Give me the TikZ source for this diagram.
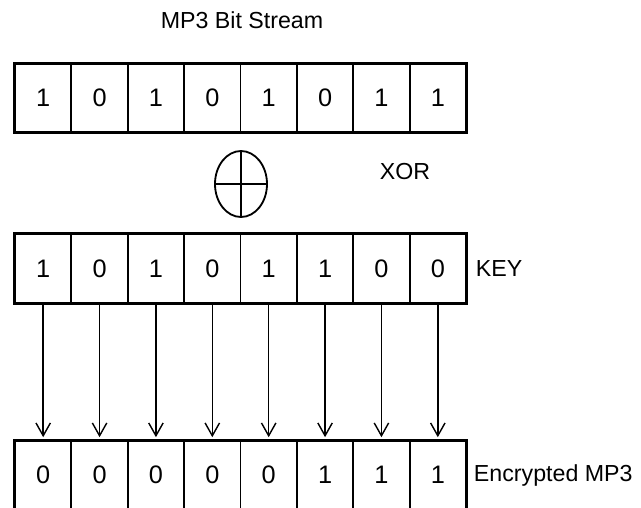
\documentclass[tikz,border=0pt]{standalone}
\usepackage{fontspec}
\setmainfont{Liberation Sans}
\usetikzlibrary{arrows.meta,positioning,shapes.geometric}

\begin{document}
\begin{tikzpicture}[
  x=0.025cm,y=-0.025cm,
  node distance=0.1cm,
  cell/.style={draw,line width=1.4pt,minimum width=1.409cm,minimum height=1.7cm,inner sep=0pt,font=\fontsize{18}{20}\selectfont},
  frame/.style={line width=1.9pt},
  lbl/.style={font=\fontsize{16.5}{19}\selectfont},
  arr/.style={-{Straight Barb[length=3.2mm,width=3.6mm]},line width=1pt}
]
\useasboundingbox (0,0) rectangle (641,508);

\node[lbl] (title) at (242,20) {MP3 Bit Stream};

% the three rows of bits
\foreach \b [count=\i] in {1,0,1,0,1,0,1,1}
  \node[cell] (m\i) at ({15+56.375*(\i-0.5)},98) {\b};
\foreach \b [count=\i] in {1,0,1,0,1,1,0,0}
  \node[cell] (k\i) at ({15+56.375*(\i-0.5)},268.5) {\b};
\foreach \b [count=\i] in {0,0,0,0,0,1,1,1}
  \node[cell] (e\i) at ({15+56.375*(\i-0.5)},475) {\b};
\draw[frame] (m1.north west) rectangle (m8.south east);
\draw[frame] (k1.north west) rectangle (k8.south east);
\draw[frame] (e1.north west) rectangle (e8.south east);

\node[draw,ellipse,line width=1.3pt,minimum width=1.3cm,minimum height=1.65cm,inner sep=0pt] (xor) at (241,184) {};
\draw[line width=1.3pt] (xor.north) -- (xor.south) (xor.west) -- (xor.east);
\node[lbl] (xorlbl) at (405,172) {XOR};

\node[lbl,right=of k8] (keylbl) {KEY};
\node[lbl,right=0.05cm of e8] (enclbl) {Encrypted MP3};

\foreach \i in {1,...,8}
  \draw[arr] (k\i.south) -- ([yshift=2pt]e\i.north);
\end{tikzpicture}
\end{document}
